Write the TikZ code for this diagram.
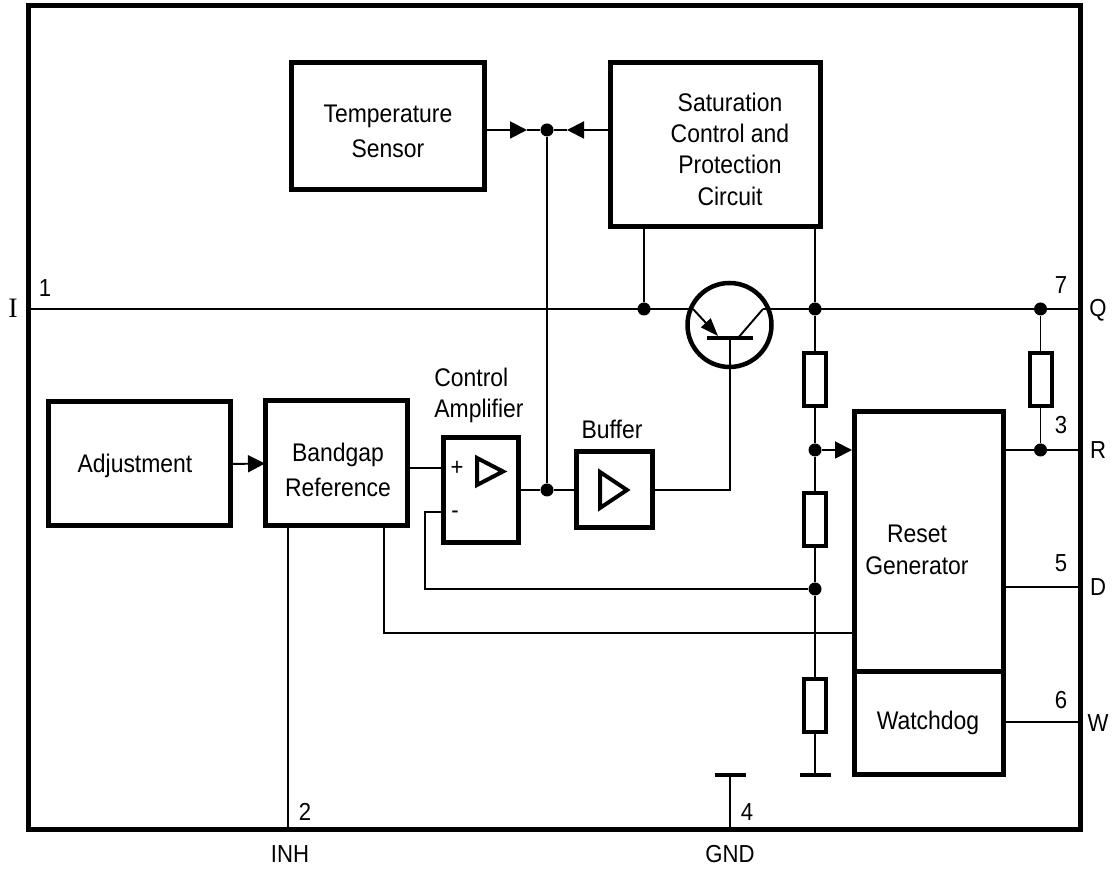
\documentclass[tikz,border=0pt]{standalone}
\usepackage{fontspec}
\setmainfont[FakeStretch=0.9]{Liberation Sans}
\newfontfamily\pinserif{Liberation Serif}
\usetikzlibrary{arrows.meta,positioning,calc}
\tikzset{
  blockbox/.style={draw,line width=0.1cm,outer sep=0pt,inner sep=0pt},
  resbox/.style={draw,line width=0.08cm,fill=white,outer sep=0pt,inner sep=0pt,minimum width=0.44cm,minimum height=1.06cm},
  wire/.style={line width=1.1pt},
  mainwire/.style={line width=1.4pt},
  dotnode/.style={circle,fill=black,inner sep=0pt,minimum size=0.26cm},
  feedtip/.style={-{Triangle[length=0.34cm,width=0.34cm]}},
  labeltext/.style={font=\fontsize{14.5}{17.8}\selectfont,align=center,inner sep=0pt},
  widetext/.style={font=\fontsize{14.5}{19.8}\selectfont,align=center,inner sep=0pt},
  pintext/.style={font=\fontsize{14}{16}\selectfont,inner sep=0pt}
}
\begin{document}
\begin{tikzpicture}
  \useasboundingbox (0,0) rectangle (22.34,17.38);
  \node[blockbox,minimum width=21.04cm,minimum height=16.48cm] (outer) at (11.08,9.02) {};
  % blocks
  \node[blockbox,minimum width=3.86cm,minimum height=2.54cm] (tempsensor) at (7.75,14.85) {};
  \node[blockbox,minimum width=4.2cm,minimum height=3.28cm] (satcircuit) at (14.3,14.48) {};
  \node[blockbox,minimum width=3.64cm,minimum height=2.48cm] (adjust) at (2.78,8.1) {};
  \node[blockbox,minimum width=2.84cm,minimum height=2.5cm] (bandgap) at (6.72,8.11) {};
  \node[blockbox,minimum width=1.5cm,minimum height=2.1cm] (ctrlamp) at (9.61,7.57) {};
  \node[blockbox,minimum width=1.52cm,minimum height=1.52cm] (bufferbox) at (12.28,7.58) {};
  \node[blockbox,minimum width=2.98cm,minimum height=5.2cm] (resetgen) at (18.57,6.54) {};
  \node[blockbox,minimum width=2.98cm,minimum height=2.06cm] (watchdog) at (18.57,2.91) {};
  \draw[line width=0.08cm] (9.54,8.22) -- (9.54,7.68) -- (10.06,7.95) -- cycle;
  \draw[line width=0.08cm] (12,7.94) -- (12,7.22) -- (12.54,7.58) -- cycle;
  % block texts
  \node[widetext] (templabel) at (7.76,14.76) {Temperature\\Sensor};
  \node[labeltext] (satlabel) at (14.6,14.4) {Saturation\\Control and\\Protection\\Circuit};
  \node[labeltext] (adjlabel) at (2.7,8.06) {Adjustment};
  \node[widetext] (reflabel) at (6.76,7.98) {Bandgap\\Reference};
  \node[labeltext,align=left] (amplabel) at (9.58,9.47) {Control\\Amplifier};
  \node[labeltext] (buflabel) at (12.24,8.8) {Buffer};
  \node[labeltext] (resetlabel) at (18.34,6.38) {Reset\\Generator};
  \node[labeltext] (doglabel) at (18.56,2.93) {Watchdog};
  \node[pintext] (plus) at (9.14,8.02) {+};
  \node[pintext] (minus) at (9.1,7.08) {-};
  % junctions
  \node[dotnode] (dotsense) at (10.94,14.78) {};
  \node[dotnode] (dotamp) at (10.94,7.58) {};
  \node[dotnode] (dotin) at (12.88,11.2) {};
  \node[dotnode] (dotout) at (16.3,11.2) {};
  \node[dotnode] (dotq) at (20.81,11.2) {};
  \node[dotnode] (dotdiv) at (16.3,8.38) {};
  \node[dotnode] (dotfb) at (16.3,5.6) {};
  \node[dotnode] (dotr) at (20.81,8.38) {};
  % resistors
  \node[resbox] (resa) at (16.3,9.78) {};
  \node[resbox] (resb) at (16.3,6.98) {};
  \node[resbox] (resc) at (16.3,3.26) {};
  \node[resbox] (resq) at (20.81,9.78) {};
  % transistor
  \node[circle,draw,line width=0.09cm,minimum size=1.68cm,inner sep=0pt,outer sep=0pt] (trans) at (14.59,10.88) {};
  \coordinate (emit) at (13.86,11.2);
  \coordinate (emitend) at (14.36,10.66);
  \coordinate (coll) at (15.26,11.2);
  \coordinate (collend) at (14.76,10.62);
  \coordinate (barmid) at (14.6,10.62);
  \draw[line width=0.08cm] ($(barmid)+(-0.46,0)$) -- ($(barmid)+(0.46,0)$);
  \draw[wire,-{Triangle[length=0.36cm,width=0.26cm]}] (emit) -- (emitend);
  \draw[wire] (coll) -- (collend);
  % free ends and corners
  \coordinate (tipa) at (10.54,14.78);
  \coordinate (tipb) at (11.34,14.78);
  \coordinate (tipc) at (17.04,8.38);
  \coordinate (ampplus) at (8.86,8.02);
  \coordinate (ampminus) at (8.86,7.14);
  \coordinate (fbcorner) at (8.5,7.14);
  \coordinate (refout) at (7.68,6.86);
  \coordinate (refin) at (17.08,4.72);
  \coordinate (inhpin) at (5.76,0.78);
  \coordinate (gnda) at (16.3,1.88);
  \coordinate (gndb) at (14.6,1.88);
  \coordinate (pind) at (21.6,5.64);
  \coordinate (pinw) at (21.6,2.94);
  % connectors
  \draw[mainwire] (dotin -| outer.west) -- (emit);
  \draw[mainwire] (coll) -- (dotq -| outer.east);
  \draw[wire,feedtip] (dotsense -| tempsensor.east) -- (tipa);
  \draw[wire] (tipa) -- (dotsense);
  \draw[wire,feedtip] (dotsense -| satcircuit.west) -- (tipb);
  \draw[wire] (tipb) -- (dotsense);
  \draw[wire] (dotsense) -- (dotamp);
  \draw[wire,feedtip] (adjust.east) -- (bandgap.west);
  \draw[wire] (ampplus -| bandgap.east) -- (ampplus);
  \draw[wire] (ampminus) -- (fbcorner) -- (fbcorner |- dotfb) -- (dotfb);
  \draw[wire] (refout) -- (refout |- refin) -- (refin);
  \draw[wire] (bandgap.south -| inhpin) -- (inhpin);
  \draw[wire] (dotamp -| ctrlamp.east) -- (dotamp) -- (bufferbox.west);
  \draw[wire] (bufferbox.east) -- (bufferbox.east -| barmid) -- (barmid);
  \draw[wire] (satcircuit.south -| dotin) -- (dotin);
  \draw[wire] (satcircuit.south -| dotout) -- (dotout) -- (resa.north);
  \draw[wire] (resa.south) -- (dotdiv) -- (resb.north);
  \draw[wire] (resb.south) -- (dotfb) -- (resc.north);
  \draw[wire] (resc.south) -- (gnda);
  \draw[wire,feedtip] (dotdiv) -- (tipc);
  \draw[wire] (dotq) -- (resq.north);
  \draw[wire] (resq.south) -- (dotr);
  \draw[wire] (dotr -| resetgen.east) -- (dotr -| outer.east);
  \draw[wire] (pind -| resetgen.east) -- (pind);
  \draw[wire] (pinw -| watchdog.east) -- (pinw);
  \draw[wire] (gndb) -- (gndb |- outer.south);
  \draw[line width=0.08cm] ($(gnda)+(-0.31,0)$) -- ($(gnda)+(0.31,0)$);
  \draw[line width=0.08cm] ($(gndb)+(-0.31,0)$) -- ($(gndb)+(0.31,0)$);
  % pins
  \node[pintext] (numa) at (0.9,11.62) {1};
  \node[pintext] (numb) at (6.1,1.14) {2};
  \node[pintext] (numc) at (21.22,8.88) {3};
  \node[pintext] (numd) at (14.94,1.14) {4};
  \node[pintext] (nume) at (21.22,6.12) {5};
  \node[pintext] (numf) at (21.22,3.38) {6};
  \node[pintext] (numg) at (21.22,11.68) {7};
  \node[pintext,font=\fontsize{16}{18}\pinserif] (pini) at (0.26,11.22) {I};
  \node[pintext] (pinq) at (21.96,11.18) {Q};
  \node[pintext] (pinr) at (21.96,8.38) {R};
  \node[pintext] (pindd) at (21.96,5.64) {D};
  \node[pintext] (pinww) at (21.96,2.92) {W};
  \node[pintext] (pininh) at (5.8,0.3) {INH};
  \node[pintext] (pingnd) at (14.6,0.3) {GND};
\end{tikzpicture}
\end{document}
